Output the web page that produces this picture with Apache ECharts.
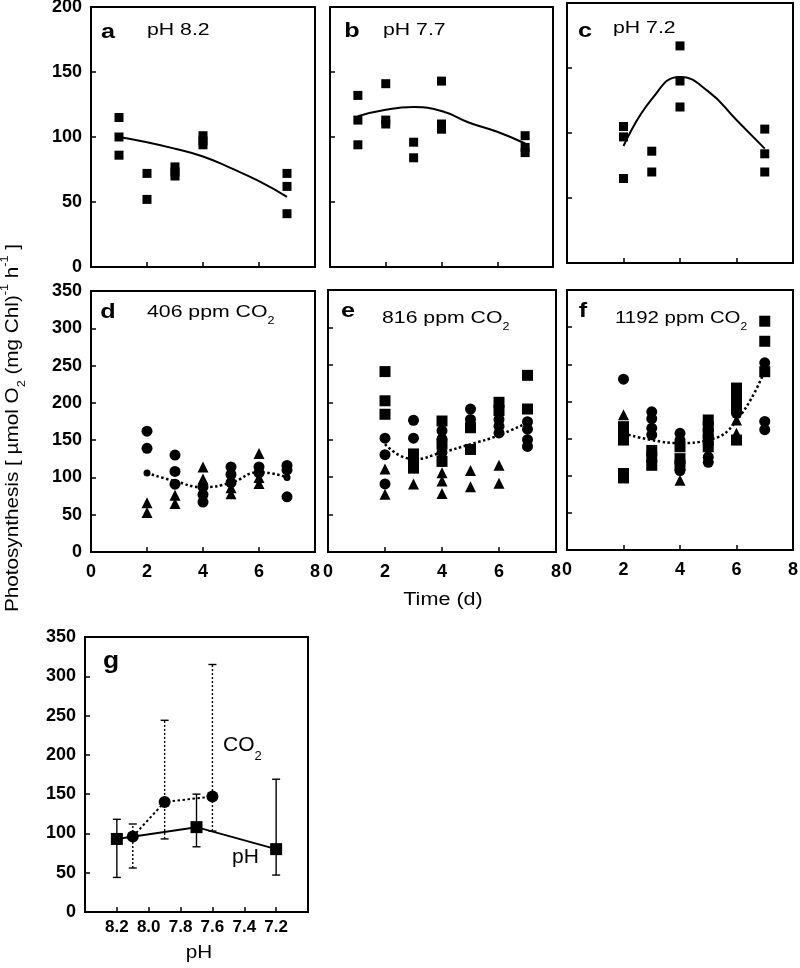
<!DOCTYPE html>
<html><head><meta charset="utf-8">
<script src="https://cdn.jsdelivr.net/npm/echarts@6/dist/echarts.min.js"></script>
<style>html,body{margin:0;padding:0;background:#fff}#c{width:800px;height:968px}</style>
</head><body><div id="c"></div>
<script>
const FONT = '"Liberation Sans", Arial, sans-serif';

// ---- Panel a: pH 8.2 ----
const aSquares = [[1,115],[1,100],[1,86],[2,72],[2,52],[3,77],[3,73],[3,70],[4,101],[4,97],[4,94],[7,72],[7,62],[7,41]];
const aCurve = [[1,100],[2,96],[3,91],[4,85],[5,76],[6,66],[7,54]];
// ---- Panel b: pH 7.7 ----
const bSquares = [[1,132],[1,113],[1,94],[2,141],[2,113],[2,110],[3,96],[3,84],[4,143],[4,110],[4,106],[7,101],[7,92],[7,88]];
const bCurve = [[1,116],[2,121],[3,123],[4,120],[5,111],[6,104],[7,95]];
// ---- Panel c: pH 7.2 ----
const cSquares = [[2,105],[2,97],[2,65],[3,86],[3,70],[4,167],[4,140],[4,120],[7,103],[7,84],[7,70]];
const cCurve = [[2,90],[3,126],[4,143],[5,132],[6,110],[7,88]];
// ---- Panel d: 406 ppm CO2 ----
const dCircles = [[2,162],[2,139],[3,130],[3,108],[3,91],[4,87],[4,77],[4,67],[5,114],[5,104],[5,93],[6,114],[6,106],[7,116],[7,110],[7,74]];
const dTriangles = [[2,66],[2,53],[3,76],[3,65],[4,114],[4,98],[5,86],[5,78],[6,132],[6,100],[6,92]];
const dMeans = [[2,106],[7,100]];
const dCurve = [[2,106],[3,95],[4,87],[5,93],[6,107],[7,100]];
// ---- Panel e: 816 ppm CO2 ----
const eSquares = [[2,241],[2,202],[2,184],[3,131],[3,121],[3,112],[4,175],[4,144],[4,121],[5,166],[5,137],[6,200],[6,189],[7,236],[7,191]];
const eCircles = [[2,152],[2,130],[2,91],[3,176],[3,152],[4,162],[4,151],[4,133],[5,191],[5,177],[6,177],[6,168],[6,159],[7,174],[7,164],[7,150],[7,141]];
const eTriangles = [[2,111],[2,77],[3,91],[4,106],[4,95],[4,78],[5,109],[5,87],[6,116],[6,92]];
const eCurve = [[2,144],[3,124],[4,133],[5,144],[6,156],[7,173]];
// ---- Panel f: 1192 ppm CO2 ----
const fSquares = [[2,166],[2,157],[2,148],[2,103],[2,97],[3,134],[3,125],[3,114],[4,139],[4,123],[4,114],[5,175],[5,166],[5,157],[5,148],[5,139],[6,218],[6,209],[6,200],[6,191],[6,148],[7,308],[7,281],[7,240]];
const fCircles = [[2,230],[3,186],[3,177],[3,164],[3,155],[4,157],[4,148],[4,107],[5,125],[5,118],[6,184],[7,252],[7,173],[7,162]];
const fTriangles = [[2,182],[4,94],[5,132],[6,175],[6,157]];
const fCurve = [[2,157],[3,148],[4,144],[5,148],[6,174],[7,242]];
// ---- Panel g: summary vs pH ----
const gPhX = [8.2, 7.7, 7.2];
const gPhY = [93, 108, 80];
const gPhLow = [44, 83, 47];
const gPhHigh = [118, 150, 169];
const gCo2X = [8.1, 7.9, 7.6];
const gCo2Y = [96, 140, 147];
const gCo2Low = [56, 93, 103];
const gCo2High = [112, 244, 315];

// ---- layout ----
const grids = [
  {left:91, top:7, width:224, height:260},
  {left:330, top:7, width:223, height:260},
  {left:567, top:3, width:226, height:260},
  {left:91, top:291, width:224, height:261},
  {left:328, top:290, width:228, height:262},
  {left:567, top:290, width:226, height:260},
  {left:85, top:637, width:223, height:275}
].map(g => Object.assign({show:true, borderColor:'#000', borderWidth:2, backgroundColor:'rgba(0,0,0,0)', containLabel:false, outerBoundsMode:'none'}, g));

const axLine = {show:true, lineStyle:{color:'#000', width:2}};
const axTick = {show:true, inside:true, length:5, lineStyle:{color:'#000', width:1.5}};
const labY = {show:true, color:'#000', fontFamily:FONT, fontWeight:'bold', fontSize:18, margin:9};
const labX = {show:true, color:'#000', fontFamily:FONT, fontWeight:'bold', fontSize:18, margin:11};

const xAxes = [], yAxes = [];
for (let i = 0; i < 6; i++) {
  xAxes.push({type:'value', gridIndex:i, min:0, max:8, interval:2, splitLine:{show:false}, axisLine:axLine, axisTick:axTick,
    axisLabel: i >= 3 ? labX : {show:false}});
  const top = i < 3 ? 200 : 350;
  yAxes.push({type:'value', gridIndex:i, min:0, max:top, interval:50, splitLine:{show:false}, axisLine:axLine, axisTick:axTick,
    axisLabel: (i === 0 || i === 3) ? labY : {show:false}});
}
xAxes.push({type:'value', gridIndex:6, min:7.0, max:8.4, interval:0.2, inverse:true, splitLine:{show:false}, axisLine:axLine, axisTick:axTick,
  axisLabel:Object.assign({}, labY, {fontSize:17, margin:7, formatter: v => (v < 7.1 || v > 8.3) ? '' : v.toFixed(1)})});
yAxes.push({type:'value', gridIndex:6, min:0, max:350, interval:50, splitLine:{show:false}, axisLine:axLine, axisTick:axTick,
  axisLabel:Object.assign({}, labY, {margin:9})});

function scat(idx, data, symbol, size) {
  return {type:'scatter', xAxisIndex:idx, yAxisIndex:idx, data, symbol, symbolSize:size, itemStyle:{color:'#000', opacity:1}, z:3};
}
function curve(idx, data, dotted) {
  return {type:'line', xAxisIndex:idx, yAxisIndex:idx, data, smooth:0.5, showSymbol:false, symbol:'none',
    lineStyle:{color:'#000', width: dotted ? 2.5 : 2, type: dotted ? [2.5,2.5] : 'solid'}, z:4};
}
function errBars(xs, lo, hi, dotted) {
  return {type:'custom', xAxisIndex:6, yAxisIndex:6, data: xs.map((x,i) => [x, lo[i], hi[i]]),
    encode:{x:0, y:[1,2]}, z:2,
    renderItem: (params, api) => {
      const x = api.value(0);
      const a = api.coord([x, api.value(1)]);
      const b = api.coord([x, api.value(2)]);
      const st = {stroke:'#000', lineWidth:1.4, lineDash: dotted ? [2,2] : null};
      const w = 4;
      return {type:'group', children:[
        {type:'line', shape:{x1:a[0], y1:a[1], x2:b[0], y2:b[1]}, style:st},
        {type:'line', shape:{x1:a[0]-w, y1:a[1], x2:a[0]+w, y2:a[1]}, style:{stroke:'#000', lineWidth:1.4}},
        {type:'line', shape:{x1:b[0]-w, y1:b[1], x2:b[0]+w, y2:b[1]}, style:{stroke:'#000', lineWidth:1.4}}
      ]};
    }};
}

const series = [
  curve(0, aCurve, false), scat(0, aSquares, 'rect', 9),
  curve(1, bCurve, false), scat(1, bSquares, 'rect', 9),
  curve(2, cCurve, false), scat(2, cSquares, 'rect', 9),
  scat(3, dCircles, 'circle', 11), scat(3, dTriangles, 'triangle', 11), scat(3, dMeans, 'circle', 7), curve(3, dCurve, true),
  scat(4, eSquares, 'rect', 11), scat(4, eCircles, 'circle', 11), scat(4, eTriangles, 'triangle', 11), curve(4, eCurve, true),
  scat(5, fSquares, 'rect', 11), scat(5, fCircles, 'circle', 11), scat(5, fTriangles, 'triangle', 11), curve(5, fCurve, true),
  errBars(gPhX, gPhLow, gPhHigh, false),
  errBars(gCo2X, gCo2Low, gCo2High, true),
  {type:'line', xAxisIndex:6, yAxisIndex:6, data: gPhX.map((x,i)=>[x, gPhY[i]]), symbol:'rect', symbolSize:12, showSymbol:true,
    itemStyle:{color:'#000', opacity:1}, lineStyle:{color:'#000', width:2}, z:5},
  {type:'line', xAxisIndex:6, yAxisIndex:6, data: gCo2X.map((x,i)=>[x, gCo2Y[i]]), symbol:'circle', symbolSize:12, showSymbol:true,
    itemStyle:{color:'#000', opacity:1}, lineStyle:{color:'#000', width:2, type:[2.5,2.5]}, z:5}
];

function txt(x, y, text, size, bold, align, sx, rich, lh) {
  return {type:'text', x, y, z:10, scaleX: sx || 1, style:{text, fill:'#000', fontFamily:FONT, fontSize:size, fontWeight: bold ? 'bold' : 'normal',
    align: align || 'left', verticalAlign:'middle', rich: rich || undefined, lineHeight: lh || undefined}};
}
const subRich = {s:{fontSize:10, fontFamily:FONT, fill:'#000', verticalAlign:'bottom', lineHeight:10}};
const subRichBig = {s:{fontSize:13, fontFamily:FONT, fill:'#000', verticalAlign:'bottom', lineHeight:13}};

const graphics = [
  txt(108, 32, 'a', 21, true, 'center', 1.2), txt(147, 30, 'pH 8.2', 17, false, 'left', 1.25),
  txt(352, 31, 'b', 21, true, 'center', 1.2), txt(383, 30, 'pH 7.7', 17, false, 'left', 1.25),
  txt(585, 31, 'c', 21, true, 'center', 1.2), txt(613, 28, 'pH 7.2', 17, false, 'left', 1.25),
  txt(108, 312, 'd', 21, true, 'center', 1.2), txt(147, 312, '406 ppm CO{s|2}', 17, false, 'left', 1.25, subRich, 28),
  txt(348, 311, 'e', 21, true, 'center', 1.2), txt(382, 318, '816 ppm CO{s|2}', 17, false, 'left', 1.25, subRich, 28),
  txt(583, 311, 'f', 21, true, 'center', 1.2), txt(615, 318, '1192 ppm CO{s|2}', 17, false, 'left', 1.2, subRich, 28),
  txt(111, 662, 'g', 23, true, 'center', 1.15),
  txt(223, 745, 'CO{s|2}', 21, false, 'left', 1, subRichBig, 35),
  txt(232, 857, 'pH', 21),
  txt(443, 600, 'Time (d)', 18, false, 'center', 1.2),
  txt(199, 953, 'pH', 18, false, 'center', 1.15),
  {type:'text', x:13, y:428, rotation:Math.PI/2, scaleX:1.15, z:10, style:{
    text:'Photosynthesis [ µmol O{s|2} (mg Chl){p|-1} h{p|-1} ]', fill:'#000', fontFamily:FONT, fontSize:18,
    align:'center', verticalAlign:'middle', lineHeight:28,
    rich:{s:{fontSize:11, fontFamily:FONT, fill:'#000', verticalAlign:'bottom', lineHeight:11},
          p:{fontSize:11, fontFamily:FONT, fill:'#000', verticalAlign:'top', lineHeight:14}}}}
];

const chart = echarts.init(document.getElementById('c'), null, {renderer:'canvas'});
chart.setOption({animation:false, backgroundColor:'#fff', grid:grids, xAxis:xAxes, yAxis:yAxes, series, graphic:graphics});
</script></body></html>
